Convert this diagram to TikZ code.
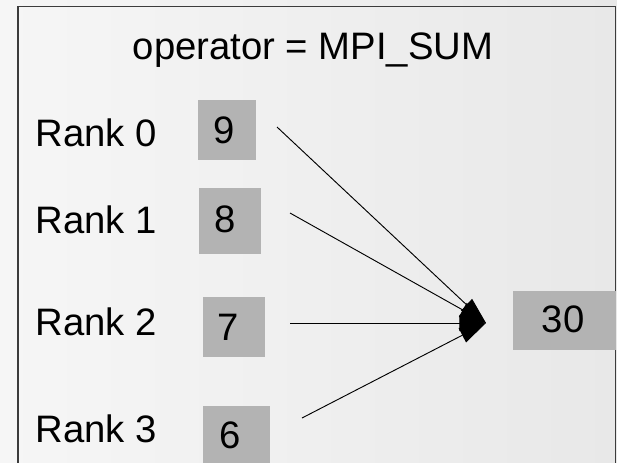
\documentclass[tikz,border=0pt]{standalone}
\usepackage{fontspec}
\setmainfont{Liberation Sans}
\usetikzlibrary{arrows.meta}

\definecolor{boxgray}{HTML}{B3B3B3}
\definecolor{framegray}{HTML}{3C3C3C}
\definecolor{bgleft}{HTML}{F6F6F6}
\definecolor{bgright}{HTML}{E8E8E8}

\tikzset{
  valbox/.style={fill=boxgray, draw=none, inner sep=0pt},
  lbl/.style={inner sep=0pt, anchor=base, font=\fontsize{28.7}{32}\selectfont},
  arr/.style={line width=0.7pt, -{Triangle[length=20pt,width=12pt]}},
}

\begin{document}
\begin{tikzpicture}[x=0.75pt,y=-0.75pt]
  % page and background
  \useasboundingbox (0,0) rectangle (617,462);
  \shade[left color=bgleft, right color=bgright] (0,0) rectangle (617,462);

  % outer frame (its lower edge lies below the page)
  \draw[framegray, line width=1.1pt] (18,6.5) rectangle (615.5,480);

  % title
  \node[lbl] (title) at (313,59) {operator = MPI\_SUM};

  % rank labels
  \node[lbl, anchor=base west] (r0) at (35.5,146) {Rank 0};
  \node[lbl, anchor=base west] (r1) at (35.5,233) {Rank 1};
  \node[lbl, anchor=base west] (r2) at (35.5,335) {Rank 2};
  \node[lbl, anchor=base west] (r3) at (35.5,442) {Rank 3};

  % value boxes
  \node[valbox, minimum width=43.5pt, minimum height=45pt]   (b0) at (227,130)   {};
  \node[valbox, minimum width=46.5pt, minimum height=49.5pt] (b1) at (230,221)   {};
  \node[valbox, minimum width=46.5pt, minimum height=45pt]   (b2) at (234,327)   {};
  \node[valbox, minimum width=50pt,   minimum height=48pt]   (b3) at (236.5,438) {};
  \node[valbox, minimum width=77pt,   minimum height=44.5pt] (bs) at (564.5,320.5) {};

  % values
  \node[lbl] (v0) at (224,143) {9};
  \node[lbl] (v1) at (225,232) {8};
  \node[lbl] (v2) at (228,340) {7};
  \node[lbl] (v3) at (230,448) {6};
  \node[lbl] (vs) at (563,332) {30};

  % connector ends
  \coordinate (s0) at (277,127);
  \coordinate (s1) at (290,213);
  \coordinate (s2) at (290,323);
  \coordinate (s3) at (302,418);
  \coordinate (sum) at (486,323);

  % reduction arrows
  \draw[arr] (s0) -- (sum);
  \draw[arr] (s1) -- (sum);
  \draw[arr] (s2) -- (sum);
  \draw[arr] (s3) -- (sum);
\end{tikzpicture}
\end{document}
